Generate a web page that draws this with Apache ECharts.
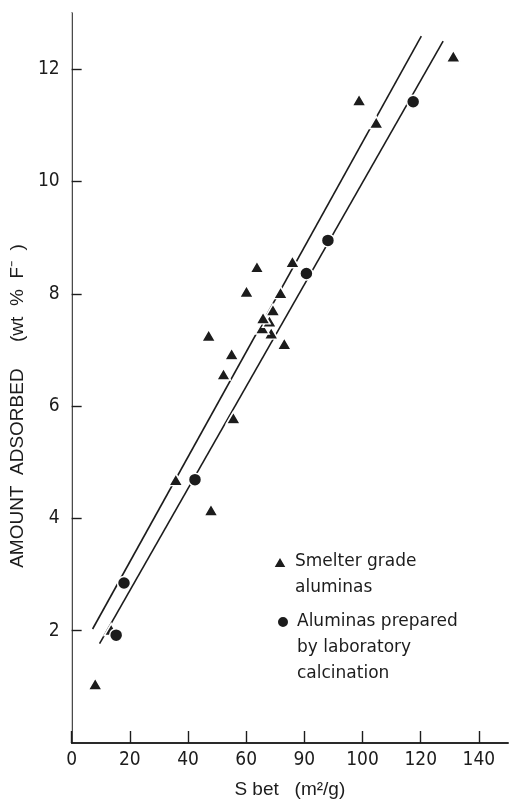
<!DOCTYPE html>
<html>
<head>
<meta charset="utf-8">
<script src="https://cdn.jsdelivr.net/npm/echarts@6/dist/echarts.min.js"></script>
<style>
html,body{margin:0;padding:0;background:#fff;}
#chart{width:509px;height:804px;}
</style>
</head>
<body>
<div id="chart"></div>
<script>
// Smelter grade aluminas [S bet, wt % F-]
var smelter = [
  [8.1,1.05],[13.6,2.02],[35.8,4.69],[47.9,4.15],[55.6,5.79],[52.2,6.57],
  [55.0,6.93],[47.1,7.26],[68.6,7.30],[65.5,7.39],[68.0,7.51],[65.8,7.57],
  [69.2,7.71],[71.8,8.02],[60.1,8.04],[63.7,8.48],[75.9,8.57],[73.1,7.11],
  [98.8,11.45],[104.7,11.05],[131.2,12.23]
];
// Aluminas prepared by laboratory calcination
var lab = [[15.3,1.92],[18.0,2.85],[42.4,4.69],[80.7,8.36],[88.1,8.95],[117.4,11.42]];
// Fitted lines (end points)
var upperLine = [[7.2,2.03],[120.2,12.59]];
var lowerLine = [[9.6,1.77],[127.7,12.50]];
// Axis tick values and their printed labels (as in the original figure)
var xTickValues = [0,20,40,60,80,100,120,140];
var xTickLabels = ['0','20','40','60','90','100','120','140'];
var yTickValues = [2,4,6,8,10,12];

var smelterName = 'Smelter grade\naluminas';
var labName = 'Aluminas prepared\nby laboratory\ncalcination';

var ink = '#1c1c1c';
var tickFont = {color: ink, fontSize: 19, fontFamily: '"Liberation Sans Narrow","DejaVu Sans Condensed","Liberation Sans",sans-serif'};
var legendFont = {color: ink, fontSize: 17, lineHeight: 26, fontFamily: '"DejaVu Sans",sans-serif', padding: [0, 0, 0, 3]};

// legend text: first line aligned with the icon
function legendText(name) {
  var n = name.split('\n').length;
  return new Array(n).join('\n') + name;
}

var chart = echarts.init(document.getElementById('chart'), null, {renderer: 'canvas'});
chart.setOption({
  backgroundColor: '#ffffff',
  animation: false,
  grid: {left: 67, right: 1, top: 13, bottom: 54, containLabel: false},
  legend: [
    {
      data: [smelterName], orient: 'vertical', left: 272, top: 523, padding: 0,
      itemWidth: 14, itemHeight: 12, itemGap: 0, selectedMode: false,
      formatter: legendText, textStyle: legendFont
    },
    {
      data: [labName], orient: 'vertical', left: 276, top: 557, padding: 0,
      itemWidth: 12, itemHeight: 12, itemGap: 0, selectedMode: false,
      formatter: legendText, textStyle: legendFont
    }
  ],
  xAxis: [
    {
      type: 'value', min: 0, max: 150, interval: 20, position: 'bottom',
      name: 'S bet   (m²/g)', nameLocation: 'middle', nameGap: 37,
      nameTextStyle: {color: ink, fontSize: 19, fontFamily: '"Liberation Sans",sans-serif'},
      axisLine: {show: true, lineStyle: {color: ink, width: 1.6}},
      axisTick: {show: true, inside: true, length: 12, lineStyle: {color: ink, width: 1.4}},
      axisLabel: Object.assign({margin: 8, showMaxLabel: false, formatter: function (v) {
        var i = xTickValues.indexOf(v); return i >= 0 ? xTickLabels[i] : '';
      }}, tickFont),
      splitLine: {show: false}
    },
    {
      type: 'value', min: 0, max: 150, position: 'top',
      axisLine: {show: true, lineStyle: {color: ink, width: 1.6}},
      axisTick: {show: false}, axisLabel: {show: false}, splitLine: {show: false}
    }
  ],
  yAxis: [
    {
      type: 'value', min: 0, max: 13, interval: 2, position: 'left',
      name: 'AMOUNT  ADSORBED     (wt  %  F⁻  )', nameLocation: 'middle', nameGap: 38, nameRotate: 90,
      nameTextStyle: {color: ink, fontSize: 19, fontFamily: '"Liberation Sans",sans-serif', padding: [0, 56, 0, 0]},
      axisLine: {show: true, lineStyle: {color: ink, width: 1.6}},
      axisTick: {show: true, inside: true, length: 10, lineStyle: {color: ink, width: 1.4}},
      axisLabel: Object.assign({margin: 12, showMaxLabel: false, showMinLabel: false, formatter: function (v) {
        return yTickValues.indexOf(v) >= 0 ? String(v) : '';
      }}, tickFont),
      splitLine: {show: false}
    },
    {
      type: 'value', min: 0, max: 13, position: 'right',
      axisLine: {show: true, lineStyle: {color: '#cfcfcf', width: 1}},
      axisTick: {show: false}, axisLabel: {show: false}, splitLine: {show: false}
    }
  ],
  series: [
    {
      type: 'line', data: upperLine, symbol: 'none', silent: true, z: 1,
      lineStyle: {color: ink, width: 1.6}
    },
    {
      type: 'line', data: lowerLine, symbol: 'none', silent: true, z: 1,
      lineStyle: {color: ink, width: 1.6}
    },
    {
      name: smelterName, type: 'scatter', data: smelter, symbol: 'triangle',
      symbolSize: [14, 12], z: 3,
      itemStyle: {color: ink, borderColor: '#fff', borderWidth: 1.5, opacity: 1}
    },
    {
      name: labName, type: 'scatter', data: lab, symbol: 'circle',
      symbolSize: 13, z: 4,
      itemStyle: {color: ink, borderColor: '#fff', borderWidth: 1.5, opacity: 1}
    }
  ]
});
</script>
</body>
</html>
